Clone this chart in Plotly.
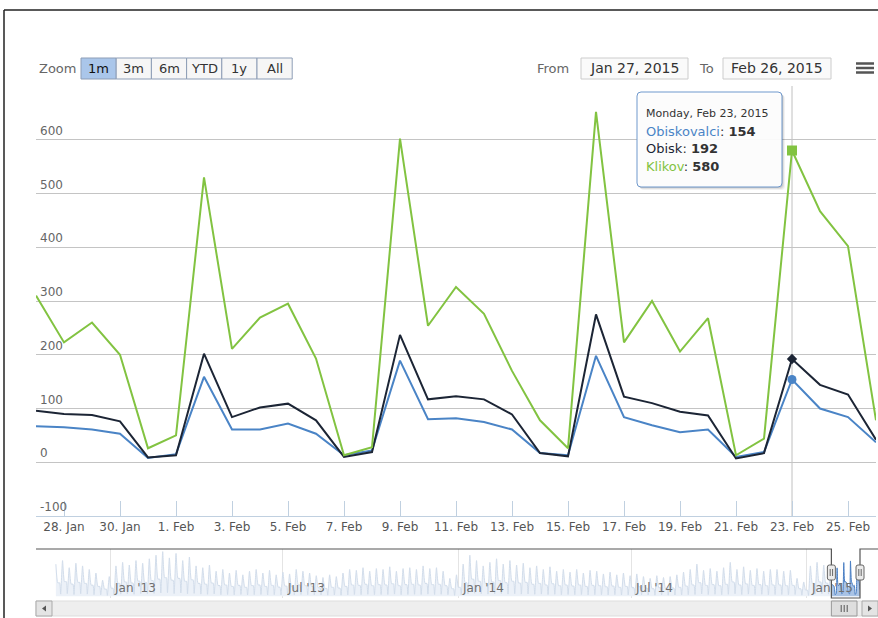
import pandas as pd
import plotly.graph_objects as go

# ---------------- data ----------------
dates = pd.date_range("2015-01-27", "2015-02-26", freq="D")
obiskovalci = [67, 65, 61, 53, 8, 15, 159, 61, 61, 72, 53, 13, 22, 189, 80, 82, 75, 61, 17, 13,
               198, 84, 69, 56, 61, 10, 19, 154, 100, 84, 37]
obisk = [96, 90, 88, 76, 9, 13, 202, 84, 102, 109, 78, 10, 19, 237, 117, 123, 117, 89, 17, 11,
         275, 122, 110, 94, 87, 7, 17, 192, 144, 126, 42]
klikov = [310, 223, 260, 200, 26, 50, 530, 211, 269, 295, 193, 13, 28, 602, 254, 326, 276, 170, 78, 26,
          652, 223, 300, 206, 268, 13, 44, 580, 467, 402, 78]
series_names = ["Obiskovalci", "Obisk", "Klikov"]
hover_index = 27

y_tickvals = [-100, 0, 100, 200, 300, 400, 500, 600, 700]
y_ticktext = ["-100", "0", "100", "200", "300", "400", "500", "600", ""]
x_tickvals = list(dates[1::2])
x_ticktext = [d.strftime("%-d. %b") for d in x_tickvals]

# navigator (whole history, weekly Monday peaks, midweek level and weekend lows)
nav_first_monday = "2012-11-05"
nav_peaks = [180, 200, 160, 185, 170, 150, 130,
             90, 110,
             170, 190, 175, 200, 185, 210, 230,
             250, 215, 240, 200, 220, 170,
             160, 175, 140, 150, 130, 145, 120,
             140, 150, 130, 145, 120, 135, 125,
             150, 140, 130, 115, 105, 120, 110, 130,
             150, 145, 160, 140, 155, 150, 165, 140,
             155, 160, 150, 170, 155, 160, 140, 100,
             120,
             180, 230, 200, 170, 190, 210, 180, 200,
             175, 185, 160, 170, 150, 165, 140, 150,
             135, 150, 130, 145, 140, 125, 135, 120,
             130, 115, 125, 110, 100, 115, 105,
             110, 120, 135, 150, 180, 145, 155, 140,
             160, 190, 150, 165, 145, 155, 140, 150,
             150, 140, 145, 100, 80,
             170, 190, 175, 160]
nav_mids = [75, 82, 68, 78, 72, 62, 55,
            40, 45,
            72, 80, 74, 85, 78, 88, 96,
            104, 90, 100, 84, 92, 72,
            68, 74, 60, 63, 55, 61, 50,
            60, 63, 55, 61, 51, 57, 53,
            63, 59, 55, 48, 44, 50, 46, 55,
            63, 61, 67, 59, 65, 63, 70, 59,
            65, 67, 63, 72, 65, 67, 59, 42,
            50,
            76, 96, 84, 72, 80, 88, 76, 84,
            74, 78, 67, 72, 63, 70, 59, 63,
            57, 63, 55, 61, 59, 53, 57, 50,
            55, 48, 53, 46, 42, 48, 44,
            46, 50, 57, 63, 76, 61, 65, 59,
            67, 80, 63, 69, 61, 65, 59, 63,
            63, 59, 61, 42, 34,
            72, 80, 74, 68]
nav_lows = [12, 15, 10, 14, 12, 9, 8,
            5, 6,
            12, 14, 11, 15, 13, 16, 18,
            20, 15, 18, 14, 16, 12,
            11, 13, 9, 10, 8, 10, 7,
            9, 10, 8, 9, 7, 8, 8,
            10, 9, 8, 7, 6, 7, 6, 8,
            10, 9, 11, 9, 10, 10, 12, 9,
            10, 11, 10, 12, 10, 11, 9, 5,
            7,
            13, 17, 14, 12, 13, 15, 12, 14,
            12, 13, 11, 12, 10, 11, 9, 10,
            9, 10, 8, 9, 9, 8, 9, 7,
            8, 7, 8, 7, 6, 7, 6,
            7, 8, 9, 10, 13, 10, 11, 9,
            11, 14, 10, 12, 10, 11, 9, 10,
            10, 9, 10, 6, 5,
            12, 14, 12, 11]
nav_range = ["2012-11-02", "2015-02-26"]
nav_tick_dates = ["2013-01-01", "2013-07-01", "2014-01-01", "2014-07-01", "2015-01-01"]
nav_tick_labels = ["Jan '13", "Jul '13", "Jan '14", "Jul '14", "Jan '15"]

zoom_buttons = ["1m", "3m", "6m", "YTD", "1y", "All"]
selected_button = "1m"
from_text = dates[0].strftime("%b %d, %Y")
to_text = dates[-1].strftime("%b %d, %Y")

# ---------------- style ----------------
W, H = 878, 618
FONT = "DejaVu Sans"
col_blue = "#4a84c6"
col_dark = "#1c2535"
col_green = "#82c341"
series_colors = [col_blue, col_dark, col_green]


def px(x):
    return x / W


def py(y):
    return 1 - y / H


def rrect_path(x0, y0, x1, y1, r):
    pts = [f"M{px(x0 + r)},{py(y0)}",
           f"L{px(x1 - r)},{py(y0)}",
           f"Q{px(x1)},{py(y0)} {px(x1)},{py(y0 + r)}",
           f"L{px(x1)},{py(y1 - r)}",
           f"Q{px(x1)},{py(y1)} {px(x1 - r)},{py(y1)}",
           f"L{px(x0 + r)},{py(y1)}",
           f"Q{px(x0)},{py(y1)} {px(x0)},{py(y1 - r)}",
           f"L{px(x0)},{py(y0 + r)}",
           f"Q{px(x0)},{py(y0)} {px(x0 + r)},{py(y0)}"]
    return " ".join(pts) + " Z"


fig = go.Figure()

# ---------------- main series ----------------
series_values = [obiskovalci, obisk, klikov]
for name, vals, c in zip(series_names, series_values, series_colors):
    fig.add_trace(go.Scatter(x=dates, y=vals, mode="lines", name=name,
                             line=dict(color=c, width=2), xaxis="x", yaxis="y"))

# hover markers
symbols = ["circle", "diamond", "square"]
sizes = [9, 8, 10]
for vals, c, s, sz in zip(series_values, series_colors, symbols, sizes):
    fig.add_trace(go.Scatter(x=[dates[hover_index]], y=[vals[hover_index]], mode="markers",
                             marker=dict(symbol=s, size=sz, color=c, line=dict(width=0)),
                             xaxis="x", yaxis="y"))

# ---------------- navigator series ----------------
first_monday = pd.Timestamp(nav_first_monday)
nav_x, nav_y = [], []
for i, (pk, md, lo) in enumerate(zip(nav_peaks, nav_mids, nav_lows)):
    mon = first_monday + pd.Timedelta(days=7 * i)
    for off, v in ((0, pk), (2, md), (4, md), (5, lo)):
        d = mon + pd.Timedelta(days=off)
        if d < dates[0]:
            nav_x.append(d)
            nav_y.append(v)
nav_x.append(dates[0])
nav_y.append(obiskovalci[0])

fig.add_trace(go.Scatter(x=nav_x, y=nav_y, mode="lines", fill="tozeroy",
                         line=dict(color="#d2ddeb", width=1, shape="spline", smoothing=0.5),
                         fillcolor="#ecf1f8", xaxis="x2", yaxis="y2"))
fig.add_trace(go.Scatter(x=dates, y=obiskovalci, mode="lines", fill="tozeroy",
                         line=dict(color="#4a7fc4", width=1, shape="spline", smoothing=0.5),
                         fillcolor="#a9c3e5", xaxis="x2", yaxis="y2"))

# ---------------- layout ----------------
shapes = []
annotations = []

# frame lines
shapes.append(dict(type="line", xref="paper", yref="paper", x0=px(4), x1=px(4), y0=py(10), y1=py(618),
                   line=dict(color="#222222", width=1.5)))
shapes.append(dict(type="line", xref="paper", yref="paper", x0=px(4), x1=px(878), y0=py(10), y1=py(10),
                   line=dict(color="#222222", width=1.5)))

# crosshair
shapes.append(dict(type="line", xref="x", yref="y domain", x0=dates[hover_index], x1=dates[hover_index],
                   y0=0, y1=1, line=dict(color="#c0c0c0", width=1), layer="below"))

# y-axis labels (inside, above the grid lines)
for v, t in zip(y_tickvals, y_ticktext):
    if t:
        annotations.append(dict(text=t, x=px(38), y=v, xref="paper", yref="y",
                                xanchor="left", yanchor="bottom", yshift=0, showarrow=False,
                                font=dict(family=FONT, size=12, color="#666666")))

# range selector
annotations.append(dict(text="Zoom", x=px(37), y=py(69), xref="paper", yref="paper",
                        xanchor="left", yanchor="middle", showarrow=False,
                        font=dict(family=FONT, size=13, color="#666666")))
bx0, bw = 81, 35.2
for i, lab in enumerate(zoom_buttons):
    x0 = bx0 + i * bw
    x1 = x0 + bw
    sel = lab == selected_button
    shapes.append(dict(type="rect", xref="paper", yref="paper", x0=px(x0), x1=px(x1), y0=py(79), y1=py(58),
                       fillcolor="#aac6ea" if sel else "#f6f6f6",
                       line=dict(color="#8d9db6", width=1)))
    annotations.append(dict(text=lab, x=px((x0 + x1) / 2), y=py(68.5), xref="paper", yref="paper",
                            xanchor="center", yanchor="middle", showarrow=False,
                            font=dict(family=FONT, size=13, color="#111111" if sel else "#333333")))

# from / to
annotations.append(dict(text="From", x=px(571), y=py(69), xref="paper", yref="paper",
                        xanchor="right", yanchor="middle", showarrow=False,
                        font=dict(family=FONT, size=13, color="#666666")))
shapes.append(dict(type="rect", xref="paper", yref="paper", x0=px(581), x1=px(688), y0=py(79), y1=py(58),
                   fillcolor="#fafafa", line=dict(color="#cccccc", width=1)))
annotations.append(dict(text=from_text, x=px(634.5), y=py(68.5), xref="paper", yref="paper",
                        xanchor="center", yanchor="middle", showarrow=False,
                        font=dict(family=FONT, size=14, color="#333333")))
annotations.append(dict(text="To", x=px(716), y=py(69), xref="paper", yref="paper",
                        xanchor="right", yanchor="middle", showarrow=False,
                        font=dict(family=FONT, size=13, color="#666666")))
shapes.append(dict(type="rect", xref="paper", yref="paper", x0=px(723), x1=px(831), y0=py(79), y1=py(58),
                   fillcolor="#fafafa", line=dict(color="#cccccc", width=1)))
annotations.append(dict(text=to_text, x=px(777), y=py(68.5), xref="paper", yref="paper",
                        xanchor="center", yanchor="middle", showarrow=False,
                        font=dict(family=FONT, size=14, color="#333333")))

# hamburger
for yy in (63.5, 68, 72.5):
    shapes.append(dict(type="line", xref="paper", yref="paper", x0=px(856), x1=px(874), y0=py(yy), y1=py(yy),
                       line=dict(color="#555555", width=2.5)))

# tooltip
for off, alpha in ((3, 0.05), (2, 0.08), (1, 0.1)):
    shapes.append(dict(type="path", xref="paper", yref="paper",
                       path=rrect_path(637 + off, 92 + off, 782 + off, 187 + off, 4),
                       fillcolor=f"rgba(0,0,0,{alpha})", line=dict(width=0)))
shapes.append(dict(type="path", xref="paper", yref="paper", path=rrect_path(637, 92, 782, 187, 4),
                   fillcolor="rgba(255,255,255,0.94)", line=dict(color="#6f98cc", width=1)))
tt_date = dates[hover_index].strftime("%A, %b %d, %Y")
annotations.append(dict(text=tt_date, x=px(644), y=py(113), xref="paper", yref="paper",
                        xanchor="left", yanchor="middle", showarrow=False,
                        font=dict(family=FONT, size=11, color="#333333")))
tt_rows_y = [131, 149, 167]
for name, vals, c, yy in zip(series_names, series_values, series_colors, tt_rows_y):
    annotations.append(dict(text=f"<span style='color:{c}'>{name}</span>: <b>{vals[hover_index]}</b>",
                            x=px(644), y=py(yy), xref="paper", yref="paper",
                            xanchor="left", yanchor="middle", showarrow=False,
                            font=dict(family=FONT, size=13, color="#333333")))

# navigator outline and handles
t0 = pd.Timestamp(nav_range[0])
t1 = pd.Timestamp(nav_range[1])


def nav_px(t):
    return 53 + (pd.Timestamp(t) - t0) / (t1 - t0) * (860 - 53)


hx0 = nav_px(dates[0])
hx1 = nav_px(dates[-1])
outline = (f"M{px(36)},{py(549)} L{px(hx0)},{py(549)} L{px(hx0)},{py(598)} "
           f"L{px(hx1)},{py(598)} L{px(hx1)},{py(549)} L{px(878)},{py(549)}")
shapes.append(dict(type="path", xref="paper", yref="paper", path=outline,
                   line=dict(color="#555555", width=1.2)))
for hx in (hx0, hx1):
    shapes.append(dict(type="path", xref="paper", yref="paper", path=rrect_path(hx - 4, 565, hx + 4, 580, 2),
                       fillcolor="#ebebeb", line=dict(color="#666666", width=1)))
    for gx in (hx - 1.2, hx + 1.2):
        shapes.append(dict(type="line", xref="paper", yref="paper", x0=px(gx), x1=px(gx), y0=py(569), y1=py(576),
                           line=dict(color="#666666", width=1)))

# scrollbar
shapes.append(dict(type="rect", xref="paper", yref="paper", x0=px(36), x1=px(878), y0=py(616), y1=py(601),
                   fillcolor="#eeeeee", line=dict(color="#dddddd", width=1), layer="below"))
for bx in (36, 862):
    shapes.append(dict(type="rect", xref="paper", yref="paper", x0=px(bx), x1=px(bx + 16), y0=py(616), y1=py(601),
                       fillcolor="#e4e4e4", line=dict(color="#aaaaaa", width=1)))
shapes.append(dict(type="path", xref="paper", yref="paper",
                   path=f"M{px(46)},{py(605.5)} L{px(42)},{py(608.5)} L{px(46)},{py(611.5)} Z",
                   fillcolor="#555555", line=dict(width=0)))
shapes.append(dict(type="path", xref="paper", yref="paper",
                   path=f"M{px(868)},{py(605.5)} L{px(872)},{py(608.5)} L{px(868)},{py(611.5)} Z",
                   fillcolor="#555555", line=dict(width=0)))
shapes.append(dict(type="rect", xref="paper", yref="paper", x0=px(hx0), x1=px(hx1 - 3), y0=py(616), y1=py(601),
                   fillcolor="#dedede", line=dict(color="#999999", width=1)))
gcx = (hx0 + hx1 - 3) / 2
for gx in (gcx - 3, gcx, gcx + 3):
    shapes.append(dict(type="line", xref="paper", yref="paper", x0=px(gx), x1=px(gx), y0=py(605), y1=py(612),
                       line=dict(color="#555555", width=1)))

# navigator labels
for d, lab in zip(nav_tick_dates, nav_tick_labels):
    annotations.append(dict(text=lab, x=d, y=py(588), xref="x2", yref="paper", xanchor="left",
                            yanchor="middle", xshift=2, showarrow=False,
                            font=dict(family=FONT, size=12, color="#707070")))

fig.update_layout(
    width=W, height=H, autosize=False,
    margin=dict(l=0, r=0, t=0, b=0),
    paper_bgcolor="white", plot_bgcolor="rgba(0,0,0,0)",
    showlegend=False, hovermode=False,
    font=dict(family=FONT, size=12, color="#666666"),
    xaxis=dict(domain=[px(36), px(876)], range=[dates[0], dates[-1]], type="date",
               tickvals=x_tickvals, ticktext=x_ticktext,
               ticks="inside", ticklen=15, tickcolor="#c0d0e0", tickwidth=1,
               showline=True, linecolor="#c0d0e0", linewidth=1,
               showgrid=False, zeroline=False,
               tickfont=dict(family=FONT, size=12, color="#555555")),
    yaxis=dict(domain=[py(516), py(86)], range=[-100, 700],
               tickvals=y_tickvals, showticklabels=False,
               showgrid=True, gridcolor="#c4c4c4", gridwidth=1, zeroline=False, showline=False,
               ticks=""),
    xaxis2=dict(domain=[px(53), px(860)], range=nav_range, type="date", anchor="y2",
                tickvals=nav_tick_dates, showticklabels=False, showgrid=True, gridcolor="#e4e4e4",
                ticks="", zeroline=False, showline=False),
    yaxis2=dict(domain=[py(598), py(549)], range=[-10, 265], anchor="x2",
                showticklabels=False, showgrid=False, zeroline=False, showline=False),
    shapes=shapes, annotations=annotations,
)

fig.write_html("out.html", config={"displayModeBar": False},
               post_script="document.body.style.margin='0';document.body.style.overflow='hidden';")
